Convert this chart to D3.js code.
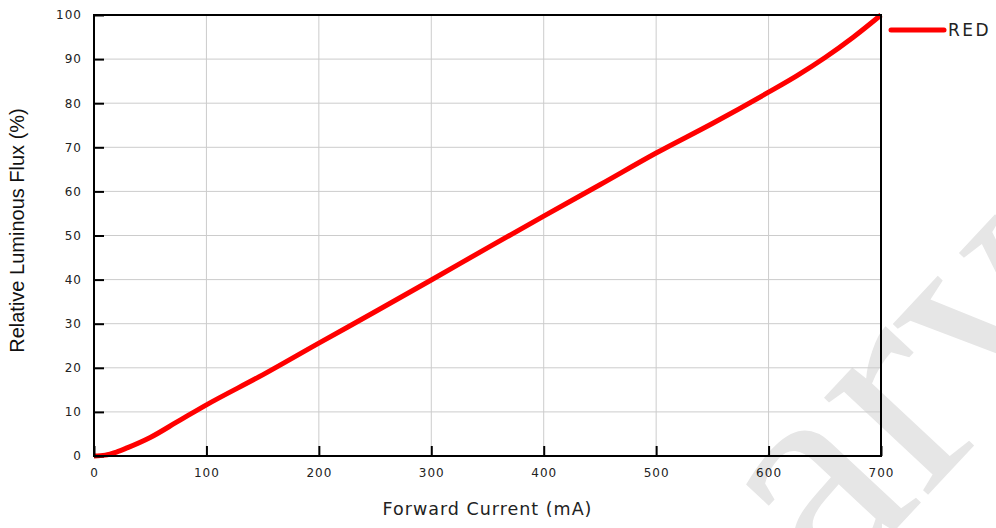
<!DOCTYPE html>
<html>
<head>
<meta charset="utf-8">
<script src="https://cdn.jsdelivr.net/npm/d3@7"></script>
<style>
  body { margin: 0; background: #fff; }
  svg { display: block; }
</style>
</head>
<body>
<div id="chart"></div>
<script>
// --- data ---
const currentMA = [0, 10, 20, 30, 50, 75, 100, 150, 200, 250, 300, 350, 400, 450, 500, 550, 600, 625, 650, 675, 700];
const fluxPct   = [0, 0.2, 0.9, 1.9, 4.2, 7.9, 11.6, 18.4, 25.6, 32.7, 39.9, 47.2, 54.4, 61.5, 68.7, 75.4, 82.5, 86.2, 90.3, 94.9, 100];
const xTicks = [0, 100, 200, 300, 400, 500, 600, 700];
const yTicks = [0, 10, 20, 30, 40, 50, 60, 70, 80, 90, 100];
const seriesName = 'RED';

const W = 996, H = 528;
const margin = { top: 15, right: 115, bottom: 72, left: 94 };
const width = W - margin.left - margin.right;
const height = H - margin.top - margin.bottom;

const svg = d3.select('#chart').append('svg')
  .attr('width', W)
  .attr('height', H);

// faint watermark, drawn first so everything sits on top of it
svg.append('text')
  .attr('transform', 'translate(830,600) rotate(-47)')
  .attr('font-family', 'Liberation Serif, serif')
  .attr('font-size', 310)
  .attr('fill', '#e6e6e6')
  .text('ary');

const g = svg.append('g')
  .attr('transform', `translate(${margin.left},${margin.top})`);

const x = d3.scaleLinear().domain([0, 700]).range([0, width]);
const y = d3.scaleLinear().domain([0, 100]).range([height, 0]);

// grid
g.selectAll('.vgrid').data(xTicks.slice(1, -1)).enter().append('line')
  .attr('x1', d => x(d)).attr('x2', d => x(d))
  .attr('y1', 0).attr('y2', height)
  .attr('stroke', '#cccccc').attr('stroke-width', 1);
g.selectAll('.hgrid').data(yTicks.slice(1, -1)).enter().append('line')
  .attr('x1', 0).attr('x2', width)
  .attr('y1', d => y(d)).attr('y2', d => y(d))
  .attr('stroke', '#cccccc').attr('stroke-width', 1);

// curve
const line = d3.line()
  .x((d, i) => x(currentMA[i]))
  .y(d => y(d))
  .curve(d3.curveMonotoneX);

g.append('path')
  .datum(fluxPct)
  .attr('fill', 'none')
  .attr('stroke', '#ff0000')
  .attr('stroke-width', 5)
  .attr('d', line);

// axes (ticks pointing inward)
const xAxis = g.append('g')
  .attr('transform', `translate(0,${height})`)
  .call(d3.axisBottom(x).tickValues(xTicks).tickSizeInner(-10).tickSizeOuter(0).tickPadding(12));
const yAxis = g.append('g')
  .call(d3.axisLeft(y).tickValues(yTicks).tickSizeInner(-10).tickSizeOuter(0).tickPadding(12));

[xAxis, yAxis].forEach(a => {
  a.select('.domain').remove();
  a.selectAll('line').attr('stroke', '#000').attr('stroke-width', 2);
  a.selectAll('text')
    .attr('font-family', 'DejaVu Sans, sans-serif')
    .attr('font-size', 12)
    .attr('letter-spacing', 1)
    .attr('fill', '#222');
});

// frame
g.append('rect')
  .attr('width', width)
  .attr('height', height)
  .attr('fill', 'none')
  .attr('stroke', '#000')
  .attr('stroke-width', 2);

// axis titles
svg.append('text')
  .attr('x', margin.left + width / 2)
  .attr('y', 515)
  .attr('text-anchor', 'middle')
  .attr('font-family', 'DejaVu Sans, sans-serif')
  .attr('font-size', 17.5)
  .attr('letter-spacing', 1)
  .attr('fill', '#222')
  .text('Forward Current (mA)');

svg.append('text')
  .attr('transform', `translate(24,${margin.top + height / 2 - 5}) rotate(-90)`)
  .attr('text-anchor', 'middle')
  .attr('font-family', 'Liberation Sans, Arial, sans-serif')
  .attr('font-size', 20)
  .attr('fill', '#111')
  .text('Relative Luminous Flux (%)');

// legend
const legend = svg.append('g').attr('transform', 'translate(891,30)');
legend.append('line')
  .attr('x1', 0).attr('x2', 53)
  .attr('stroke', '#ff0000').attr('stroke-width', 5).attr('stroke-linecap', 'round');
legend.append('text')
  .attr('x', 57).attr('y', 6)
  .attr('font-family', 'DejaVu Sans, sans-serif')
  .attr('font-size', 17)
  .attr('letter-spacing', 2.5)
  .attr('fill', '#222')
  .text(seriesName);
</script>
</body>
</html>
